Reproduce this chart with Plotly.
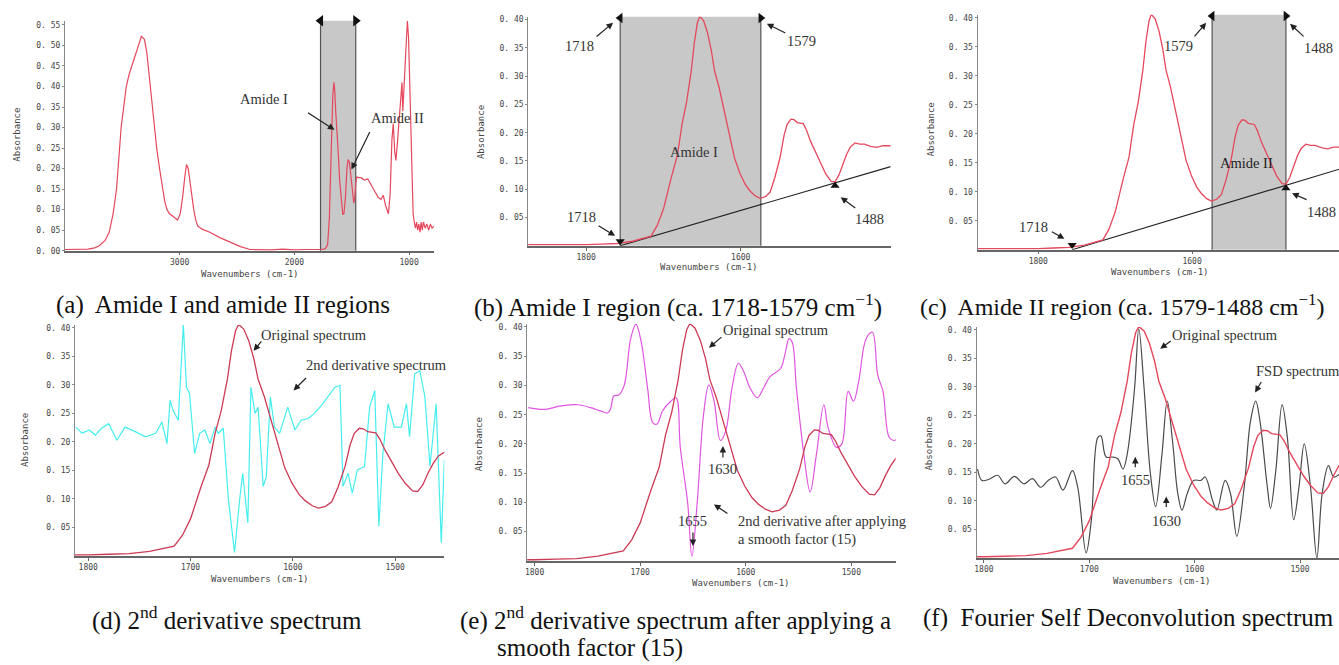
import plotly.graph_objects as go

W, H = 1339, 665

# ---------------- data ----------------
# (a) full spectrum
wn_full = [4000, 3900, 3800, 3740, 3700, 3650, 3614, 3580, 3550, 3510, 3465, 3440, 3410, 3386, 3360,
           3333, 3307, 3285, 3263, 3240, 3220, 3200, 3175, 3150, 3130, 3110, 3088, 3050, 3018, 2995,
           2974, 2955, 2940, 2925, 2912, 2895, 2877, 2860, 2842, 2800, 2737, 2650, 2560, 2470, 2386,
           2300, 2200, 2100, 2000, 1900, 1800, 1760, 1730, 1710, 1695, 1684, 1675, 1665, 1655, 1648,
           1640, 1630, 1620, 1605, 1590, 1578, 1568, 1555, 1542, 1532, 1520, 1508, 1495, 1482, 1473,
           1465, 1455, 1440, 1420, 1390, 1360, 1330, 1300, 1270, 1245, 1225, 1205, 1180, 1165, 1150,
           1138, 1125, 1115, 1100, 1085, 1070, 1062, 1055, 1045, 1030, 1015, 1005, 990, 975, 965,
           955, 945, 935, 925, 915, 905, 895, 885, 875, 860, 845, 830, 815, 800, 785]
abs_full = [0.003, 0.003, 0.004, 0.007, 0.012, 0.025, 0.045, 0.09, 0.15, 0.30, 0.40, 0.43, 0.455, 0.48, 0.50,
            0.522, 0.515, 0.48, 0.42, 0.36, 0.30, 0.25, 0.20, 0.15, 0.12, 0.10, 0.09, 0.082, 0.075, 0.09,
            0.13, 0.18, 0.21, 0.20, 0.17, 0.13, 0.10, 0.075, 0.06, 0.052, 0.045, 0.032, 0.02, 0.01, 0.003,
            0.002, 0.002, 0.004, 0.002, 0.003, 0.002, 0.003, 0.005, 0.015, 0.08, 0.2, 0.30, 0.38, 0.41, 0.39,
            0.34, 0.30, 0.25, 0.17, 0.11, 0.088, 0.09, 0.13, 0.20, 0.222, 0.215, 0.18, 0.14, 0.116, 0.13,
            0.165, 0.18, 0.178, 0.178, 0.172, 0.175, 0.158, 0.145, 0.13, 0.125, 0.135, 0.11, 0.09, 0.14, 0.27,
            0.31, 0.24, 0.22, 0.27, 0.33, 0.40, 0.41, 0.34, 0.40, 0.50, 0.56, 0.52, 0.35, 0.18, 0.09,
            0.07, 0.055, 0.07, 0.05, 0.065, 0.045, 0.07, 0.05, 0.07, 0.055, 0.065, 0.05, 0.065, 0.055, 0.06]

# original spectrum, amide region (panels b-f)
wn_orig = [1880, 1850, 1820, 1800, 1780, 1760, 1740, 1725, 1716, 1708, 1700, 1690, 1682, 1676, 1670,
           1664, 1660, 1656, 1653, 1648, 1643, 1638, 1634, 1628, 1624, 1619, 1614, 1608, 1601, 1594,
           1588, 1581, 1575, 1568, 1562, 1556, 1549, 1544, 1540, 1535, 1531, 1527, 1519, 1515, 1510,
           1503, 1497, 1490, 1483, 1478, 1473, 1468, 1463, 1458, 1452, 1446, 1440, 1432, 1424, 1416, 1406]
abs_orig = [0.002, 0.002, 0.001, 0.002, 0.003, 0.004, 0.008, 0.013, 0.017, 0.036, 0.065, 0.12, 0.16, 0.215, 0.255,
            0.31, 0.36, 0.395, 0.406, 0.398, 0.377, 0.345, 0.31, 0.28, 0.255, 0.22, 0.19, 0.155, 0.128, 0.108,
            0.097, 0.088, 0.084, 0.087, 0.095, 0.12, 0.157, 0.195, 0.215, 0.224, 0.223, 0.218, 0.216, 0.205, 0.186,
            0.165, 0.145, 0.127, 0.114, 0.113, 0.125, 0.145, 0.162, 0.175, 0.182, 0.18, 0.18, 0.176, 0.174, 0.177, 0.177]

# (d) 2nd derivative spectrum
wn_d2 = [1812, 1806, 1799, 1793, 1787, 1780, 1772, 1764, 1754, 1744, 1734, 1728, 1723, 1720, 1717,
         1712, 1707, 1704, 1701, 1696, 1691, 1686, 1681, 1676, 1673, 1668, 1663, 1657, 1652, 1649,
         1644, 1641, 1637, 1634, 1629, 1626, 1622, 1618, 1613, 1605, 1598, 1592, 1585, 1579, 1572,
         1566, 1559, 1554, 1551, 1546, 1542, 1537, 1530, 1525, 1520, 1516, 1512, 1507, 1501, 1494,
         1489, 1486, 1481, 1476, 1471, 1466, 1460, 1455, 1452]
abs_d2 = [0.226, 0.215, 0.221, 0.212, 0.224, 0.232, 0.203, 0.226, 0.218, 0.209, 0.215, 0.235, 0.197, 0.273, 0.255,
          0.238, 0.406, 0.296, 0.285, 0.18, 0.215, 0.221, 0.197, 0.226, 0.215, 0.224, 0.099, 0.006, 0.099, 0.145,
          0.058, 0.296, 0.25, 0.261, 0.122, 0.139, 0.279, 0.226, 0.215, 0.261, 0.221, 0.238, 0.241, 0.25, 0.264,
          0.279, 0.296, 0.299, 0.122, 0.145, 0.11, 0.151, 0.157, 0.261, 0.29, 0.052, 0.18, 0.267, 0.226, 0.226,
          0.267, 0.209, 0.319, 0.325, 0.279, 0.157, 0.267, 0.023, 0.168]

# (e) 2nd derivative after smoothing (15)
wn_d2s = [1806, 1791, 1775, 1759, 1747, 1737, 1731, 1728, 1725, 1720, 1715, 1709, 1704, 1699, 1693,
          1688, 1684, 1679, 1671, 1666, 1662, 1655, 1651, 1646, 1640, 1635, 1630, 1624, 1619, 1613,
          1607, 1602, 1596, 1589, 1583, 1577, 1567, 1563, 1559, 1556, 1552, 1545, 1539, 1533, 1526,
          1522, 1514, 1509, 1503, 1498, 1493, 1486, 1480, 1475, 1470, 1464, 1459, 1454]
abs_d2s = [0.262, 0.259, 0.265, 0.267, 0.262, 0.256, 0.253, 0.26, 0.282, 0.284, 0.301, 0.38, 0.405, 0.374, 0.296,
           0.236, 0.234, 0.256, 0.273, 0.279, 0.194, 0.099, 0.008, 0.099, 0.25, 0.301, 0.273, 0.206, 0.222, 0.296,
           0.338, 0.324, 0.296, 0.279, 0.296, 0.315, 0.329, 0.352, 0.38, 0.374, 0.296, 0.183, 0.118, 0.183, 0.267,
           0.228, 0.194, 0.2, 0.29, 0.273, 0.307, 0.38, 0.391, 0.318, 0.29, 0.211, 0.206, 0.217]

# (f) Fourier self deconvolution spectrum
wn_fsd = [1806, 1802, 1795, 1787, 1780, 1771, 1762, 1754, 1746, 1739, 1732, 1725, 1716, 1711, 1703,
          1698, 1692, 1689, 1684, 1678, 1673, 1668, 1664, 1657, 1653, 1648, 1642, 1637, 1631, 1626,
          1621, 1616, 1612, 1607, 1601, 1594, 1590, 1583, 1579, 1571, 1566, 1560, 1553, 1547, 1542,
          1538, 1531, 1528, 1523, 1517, 1512, 1506, 1501, 1496, 1490, 1484, 1479, 1473, 1468, 1462]
abs_fsd = [0.156, 0.136, 0.138, 0.145, 0.13, 0.143, 0.13, 0.139, 0.124, 0.136, 0.142, 0.119, 0.153, 0.124, 0.009,
           0.067, 0.211, 0.214, 0.177, 0.177, 0.174, 0.156, 0.182, 0.298, 0.402, 0.298, 0.148, 0.09, 0.182, 0.275,
           0.205, 0.113, 0.084, 0.113, 0.136, 0.136, 0.142, 0.101, 0.084, 0.136, 0.113, 0.038, 0.124, 0.24, 0.275,
           0.24, 0.124, 0.087, 0.153, 0.269, 0.211, 0.067, 0.124, 0.2, 0.124, 0.0, 0.113, 0.162, 0.142, 0.148]

# band limits as drawn in the picture
bounds_a = [1772, 1465]                 # shaded amide band in (a)
bound_pos = [1756, 1574, 1478]          # drawn positions of 1718, 1579, 1488
bound_labels = ["1718", "1579", "1488"]
baseline_wn = [1756, 1406]
baseline_abs = [0.0, 0.14]

y_ticks_a = [0.00, 0.05, 0.10, 0.15, 0.20, 0.25, 0.30, 0.35, 0.40, 0.45, 0.50, 0.55]
y_ticks = [0.05, 0.10, 0.15, 0.20, 0.25, 0.30, 0.35, 0.40]
x_ticks_a = [3000, 2000, 1000]
x_ticks_bc = [1800, 1600]
x_ticks_def = [1800, 1700, 1600, 1500]

# ---------------- styling ----------------
RED = "#e5485c"
RED_D = "#cc3a55"
CYAN = "#45eeee"
MAGENTA = "#e055e0"
FSD = "#4a4a4a"
GRAY = "#c8c8c8"
TICKFONT = dict(family="DejaVu Sans Mono", size=8, color="#444")
LBLFONT = dict(family="Liberation Serif", size=14.5, color="#333")
CAPFONT = dict(family="Liberation Serif", size=25, color="#111")


def px(x):
    return x / W


def py(y):
    return 1 - y / H


def fmt(v):
    s = "%.2f" % v
    return s.replace(".", ". ")


panels = {
    # name: (x0, x1, ytop, ybot, xrange, yrange, xticks, yticks)
    1: (63, 433, 20, 252, [4000, 780], [0, 0.56], x_ticks_a, y_ticks_a),
    2: (527, 890, 16, 247, [1875, 1406], [0, 0.405], x_ticks_bc, y_ticks),
    3: (977, 1339, 14, 251, [1879, 1409], [0, 0.405], x_ticks_bc, y_ticks),
    4: (73, 443, 327, 560, [1813, 1452], [0, 0.405], x_ticks_def, y_ticks),
    5: (526, 895, 326, 565, [1807, 1458], [0, 0.405], x_ticks_def, y_ticks),
    6: (976, 1339, 329, 562, [1807, 1463], [0, 0.405], x_ticks_def, y_ticks),
}

fig = go.Figure()
layout = {}
for i, (x0, x1, yt, yb, xr, yr, xt, ytk) in panels.items():
    sx = "" if i == 1 else str(i)
    layout["xaxis" + sx] = dict(
        domain=[px(x0), px(x1)], range=xr, anchor="y" + sx,
        showline=True, linecolor="#666", linewidth=1.5, ticks="outside", ticklen=3,
        tickcolor="#666", tickvals=xt, ticktext=[str(v) for v in xt], tickfont=TICKFONT,
        showgrid=False, zeroline=False, fixedrange=True)
    layout["yaxis" + sx] = dict(
        domain=[py(yb), py(yt)], range=yr, anchor="x" + sx,
        showline=True, linecolor="#888", linewidth=1, ticks="outside", ticklen=2,
        tickcolor="#888", tickvals=ytk, ticktext=[fmt(v) for v in ytk], tickfont=TICKFONT,
        showgrid=False, zeroline=False, fixedrange=True)


def ax(i):
    s = "" if i == 1 else str(i)
    return dict(xaxis="x" + s, yaxis="y" + s)


def line(i, x, y, color, width=1.2, shape="linear"):
    fig.add_trace(go.Scatter(x=x, y=y, mode="lines", line=dict(color=color, width=width, shape=shape),
                             showlegend=False, hoverinfo="skip", **ax(i)))


def tri(i, x, y, symbol, size=9):
    fig.add_trace(go.Scatter(x=[x], y=[y], mode="markers",
                             marker=dict(symbol=symbol, size=size, color="#111"),
                             showlegend=False, hoverinfo="skip", cliponaxis=False, **ax(i)))


shapes = []


def band(i, xa, xb):
    s = "" if i == 1 else str(i)
    shapes.append(dict(type="rect", xref="x" + s, yref="y" + s + " domain", x0=xa, x1=xb, y0=0, y1=1,
                       fillcolor=GRAY, line=dict(width=0), layer="below"))
    for xv in (xa, xb):
        shapes.append(dict(type="line", xref="x" + s, yref="y" + s + " domain", x0=xv, x1=xv, y0=0, y1=1,
                           line=dict(color="#555", width=1.2), layer="below"))


# (a)
band(1, bounds_a[0], bounds_a[1])
line(1, wn_full, abs_full, RED, 1.2)
tri(1, bounds_a[0], 0.56, "triangle-left", 10)
tri(1, bounds_a[1], 0.56, "triangle-right", 10)

# (b)
band(2, bound_pos[0], bound_pos[1])
line(2, baseline_wn, baseline_abs, "#222", 1.1)
line(2, wn_orig, abs_orig, RED, 1.3)
tri(2, bound_pos[0], 0.403, "triangle-left")
tri(2, bound_pos[1], 0.403, "triangle-right")
tri(2, bound_pos[0], 0.008, "triangle-down", 8)
tri(2, bound_pos[2], 0.106, "triangle-up", 8)

# (c)
band(3, bound_pos[1], bound_pos[2])
line(3, baseline_wn, baseline_abs, "#222", 1.1)
line(3, wn_orig, abs_orig, RED, 1.3)
tri(3, bound_pos[1], 0.403, "triangle-left")
tri(3, bound_pos[2], 0.403, "triangle-right")
tri(3, bound_pos[0], 0.008, "triangle-down", 8)
tri(3, bound_pos[2], 0.106, "triangle-up", 8)

# (d)
line(4, wn_d2, abs_d2, CYAN, 1.2)
line(4, wn_orig, abs_orig, RED_D, 1.3)

# (e)
line(5, wn_d2s, abs_d2s, MAGENTA, 1.2, "spline")
line(5, wn_orig, abs_orig, RED_D, 1.3)

# (f)
line(6, wn_fsd, abs_fsd, FSD, 1.2, "spline")
line(6, wn_orig, abs_orig, RED, 1.4)

ann = []


def text(x, y, t, font=LBLFONT, xanchor="center", angle=0):
    ann.append(dict(x=px(x), y=py(y), xref="paper", yref="paper", text=t, showarrow=False,
                    font=font, xanchor=xanchor, yanchor="middle", textangle=angle))


def arrow(tx, ty, hx, hy):
    ann.append(dict(x=px(hx), y=py(hy), xref="paper", yref="paper", text="", showarrow=True,
                    ax=tx - hx, ay=ty - hy, arrowhead=2, arrowsize=1.1, arrowwidth=1.2,
                    arrowcolor="#222"))


# (a)
text(262, 99, "Amide I")
arrow(305, 112, 333, 130)
text(396, 118, "Amide II")
arrow(369, 131, 350, 170)
# (b)
text(578, 45, bound_labels[0])
arrow(594, 37, 612, 22)
text(801, 40, bound_labels[1])
arrow(786, 33, 766, 23)
text(693, 152, "Amide I")
text(580, 218, bound_labels[0])
arrow(596, 226, 614, 237)
text(869, 220, bound_labels[2])
arrow(856, 210, 840, 198)
# (c)
text(1178, 45, bound_labels[1])
arrow(1193, 37, 1206, 22)
text(1318, 47, bound_labels[2])
arrow(1305, 37, 1290, 23)
text(1246, 163, "Amide II", font=dict(family="Liberation Serif", size=14.5, color="#222"))
text(1033, 228, bound_labels[0])
arrow(1050, 232, 1064, 240)
text(1321, 213, bound_labels[2])
arrow(1308, 201, 1292, 194)
# (d)
text(312, 337, "Original spectrum")
arrow(261, 342, 252, 353)
text(375, 367, "2nd derivative spectrum")
arrow(306, 379, 292, 393)
# (e)
text(775, 332, "Original spectrum")
arrow(722, 338, 708, 350)
text(722, 472, "1630")
arrow(722, 462, 722, 449)
text(692, 525, "1655")
arrow(692, 535, 692, 550)
text(735, 525, "2nd derivative after applying", xanchor="left")
text(735, 543, "a smooth factor (15)", xanchor="left")
arrow(728, 518, 713, 508)
# (f)
text(1225, 337, "Original spectrum")
arrow(1172, 342, 1160, 351)
text(1298, 373, "FSD spectrum")
arrow(1262, 383, 1255, 395)
text(1135, 483, "1655")
arrow(1135, 472, 1135, 460)
text(1166, 525, "1630")
arrow(1166, 512, 1166, 500)

# axis titles
AXF = dict(family="DejaVu Sans Mono", size=9, color="#444")
for (xx, yy) in [(15, 135), (480, 132), (930, 130), (23, 443), (478, 447), (928, 447)]:
    text(xx, yy, "Absorbance", font=AXF, angle=-90)
for (xx, yy) in [(248, 275), (708, 268), (1160, 273), (258, 583), (740, 587), (1162, 585)]:
    text(xx, yy, "Wavenumbers (cm-1)", font=AXF)

# captions
text(221, 307, "(a)  Amide I and amide II regions", font=CAPFONT)
text(677, 307, "(b) Amide I region (ca. 1718-1579 cm<sup>\u22121</sup>)", font=CAPFONT)
text(917, 307, "(c)  Amide II region (ca. 1579-1488 cm<sup>\u22121</sup>)",
     font=dict(family="Liberation Serif", size=24, color="#111"), xanchor="left")
text(225, 623, "(d) 2<sup>nd</sup> derivative spectrum", font=CAPFONT)
text(457, 623, "(e) 2<sup>nd</sup> derivative spectrum after applying a", font=CAPFONT, xanchor="left")
text(494, 653, "smooth factor (15)", font=CAPFONT, xanchor="left")
text(920, 623, "(f)  Fourier Self Deconvolution spectrum", font=CAPFONT, xanchor="left")

fig.update_layout(
    width=W, height=H, margin=dict(l=0, r=0, t=0, b=0),
    paper_bgcolor="white", plot_bgcolor="rgba(0,0,0,0)",
    shapes=shapes, annotations=ann, showlegend=False, **layout)

fig.write_html("out.html", config={"displayModeBar": False},
               post_script="document.body.style.margin='0';document.body.style.overflow='hidden';")
